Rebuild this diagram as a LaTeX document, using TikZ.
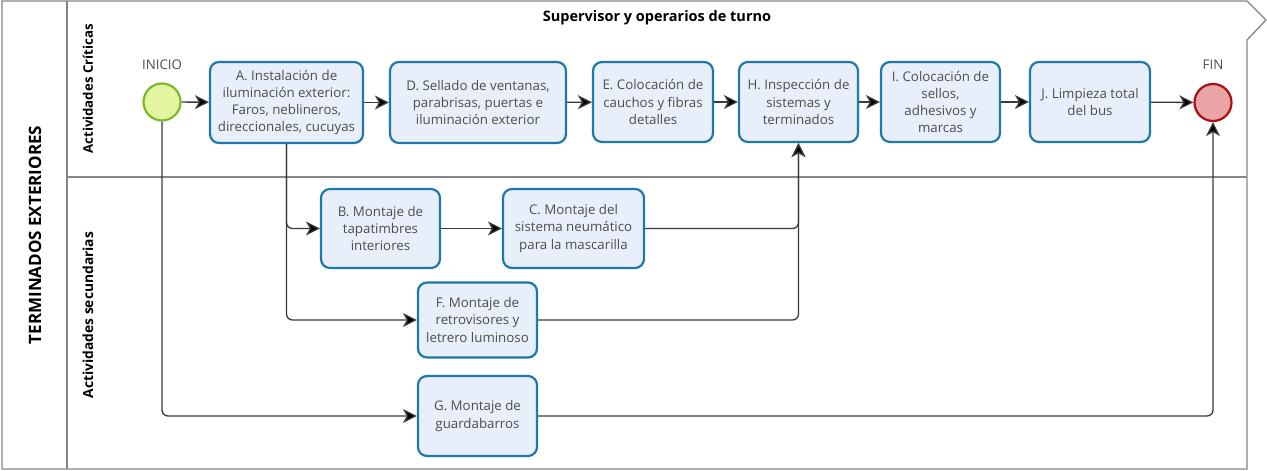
\documentclass[tikz,border=0pt]{standalone}
\usepackage{fontspec}
\setmainfont{Open Sans}
\usetikzlibrary{arrows.meta}
\definecolor{taskblue}{HTML}{1F78AA}
\definecolor{taskfill}{HTML}{E9EEFB}
\definecolor{textgray}{HTML}{4D4D4D}
\definecolor{framegray}{HTML}{858585}
\definecolor{linegray}{HTML}{3A3A3A}
\definecolor{startfill}{HTML}{E4F5A2}
\definecolor{startdraw}{HTML}{7CB82A}
\definecolor{endfill}{HTML}{EBA4A6}
\definecolor{enddraw}{HTML}{A80F12}
\begin{document}
\begin{tikzpicture}[x=1pt,y=-1pt,
  task/.style={draw=taskblue, line width=2.2pt, fill=taskfill, rounded corners=9pt,
    align=center, text=textgray, inner sep=0pt,
    font=\fontsize{13.3}{17.3}\selectfont},
  evt/.style={circle, line width=2.2pt, minimum size=37pt, inner sep=0pt},
  flow/.style={draw=linegray, line width=1.3pt, rounded corners=6pt,
    -{Stealth[length=14pt,width=14pt,inset=4pt,fill=black]}},
  lbl/.style={text=textgray, font=\fontsize{13.3}{15}\selectfont},
  frame/.style={draw=framegray, line width=1.3pt}
]
\useasboundingbox (0,0) rectangle (1267,471);
% frame
\draw[frame] (2,1) -- (1247,1) -- (1266,20) -- (1247,40) -- (1247,469) -- (2,469) -- cycle;
\draw[frame] (67,1) -- (67,469);
\draw[frame] (67,177) -- (1247,177);
% labels of pool and lanes
\node[rotate=90, font=\bfseries\fontsize{17}{19}\selectfont, text=black] (pool) at (35,235) {TERMINADOS EXTERIORES};
\node[rotate=90, font=\bfseries\fontsize{13.2}{15}\selectfont, text=black] (lane1) at (88,89) {Actividades Críticas};
\node[rotate=90, font=\bfseries\fontsize{13.8}{15}\selectfont, text=black] (lane2) at (88,315) {Actividades secundarias};
\node[font=\bfseries\fontsize{14.5}{16}\selectfont, text=black] (title) at (657,18) {Supervisor y operarios de turno};
% events
\node[evt, draw=startdraw, fill=startfill] (ini) at (162,102) {};
\node[lbl] (inil) at (162,65) {INICIO};
\node[evt, draw=enddraw, fill=endfill] (fin) at (1213,102.5) {};
\node[lbl] (finl) at (1213,65) {FIN};
% tasks top lane
\node[task, minimum width=153pt, minimum height=81pt] (A) at (286.5,102.5) {A. Instalación de\\iluminación exterior:\\Faros, neblineros,\\direccionales, cucuyas};
\node[task, minimum width=176pt, minimum height=81pt] (D) at (478,102.5) {D. Sellado de ventanas,\\parabrisas, puertas e\\iluminación exterior};
\node[task, minimum width=120pt, minimum height=80pt] (E) at (653,102) {E. Colocación de\\cauchos y fibras\\detalles};
\node[task, minimum width=119pt, minimum height=80pt] (H) at (798.5,102) {H. Inspección de\\sistemas y\\terminados};
\node[task, minimum width=119pt, minimum height=80pt] (I) at (940.5,102) {I. Colocación de\\sellos,\\adhesivos y\\marcas};
\node[task, minimum width=120pt, minimum height=80pt] (J) at (1090,102) {J. Limpieza total\\del bus};
% tasks bottom lane
\node[task, minimum width=119pt, minimum height=79pt] (B) at (380.5,228.5) {B. Montaje de\\tapatimbres\\interiores};
\node[task, minimum width=141pt, minimum height=79pt] (C) at (573.5,228.5) {C. Montaje del\\sistema neumático\\para la mascarilla};
\node[task, minimum width=119pt, minimum height=75pt] (F) at (477.5,320) {F. Montaje de\\retrovisores y\\letrero luminoso};
\node[task, minimum width=119pt, minimum height=80pt] (G) at (477.5,416) {G. Montaje de\\guardabarros};
% flows
\draw[flow] (ini) -- (A);
\draw[flow] (A) -- (D);
\draw[flow] (D) -- (E);
\draw[flow] (E) -- (H);
\draw[flow] (H) -- (I);
\draw[flow] (I) -- (J);
\draw[flow] (J) -- (fin);
\draw[flow] (A.south) |- (B.west);
\draw[flow] (A.south) |- (F.west);
\draw[flow] (B) -- (C);
\draw[flow] (C.east) -| (H.south);
\draw[flow] (F.east) -| (H.south);
\draw[flow] (ini.south) |- (G.west);
\draw[flow] (G.east) -| (fin.south);
\end{tikzpicture}
\end{document}
